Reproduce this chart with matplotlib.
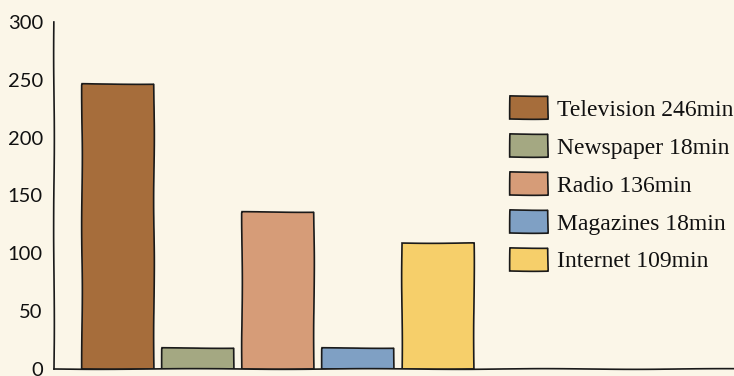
import matplotlib
matplotlib.use("Agg")
import matplotlib.pyplot as plt
import numpy as np

categories = ["Television", "Newspaper", "Radio", "Magazines", "Internet"]
values = [246, 18, 136, 18, 109]
unit = "min"
colors = ["#a66d3b", "#a4a882", "#d69c78", "#7fa0c4", "#f6cf6a"]
yticks = [0, 50, 100, 150, 200, 250, 300]

W, H = 734, 376
fig = plt.figure(figsize=(W / 100, H / 100), dpi=100)
bg = "#fbf6e8"
fig.patch.set_facecolor(bg)
ax = fig.add_axes([54 / W, 7 / H, 680 / W, 347 / H])
ax.set_facecolor(bg)

x = np.arange(len(categories))
labels = [f"{c} {v}{unit}" for c, v in zip(categories, values)]
bars = ax.bar(x, values, width=0.9, color=colors, edgecolor="#1a1a1a", linewidth=1.2)
for b in bars:
    b.set_sketch_params(scale=0.35, length=150, randomness=2)

ax.set_xlim(-0.8, -0.8 + 680 / 80)
ax.set_ylim(0, 300)
ax.set_yticks(yticks)
ax.set_xticks([])
for s in ["top", "right"]:
    ax.spines[s].set_visible(False)
for s in ["left", "bottom"]:
    ax.spines[s].set_color("#1a1a1a")
    ax.spines[s].set_linewidth(1.2)
    ax.spines[s].set_sketch_params(scale=0.35, length=200, randomness=2)
ax.tick_params(axis="y", length=0, pad=8, labelsize=14.5, labelcolor="#111111")
for t in ax.get_yticklabels():
    t.set_family(["Lato", "DejaVu Sans"])

leg = ax.legend(handles=list(bars), labels=labels,
                loc="upper left", bbox_to_anchor=(510 / W, (376 - 96) / H),
                bbox_transform=fig.transFigure, frameon=False,
                prop={"family": ["Liberation Serif", "DejaVu Serif"], "size": 17},
                handlelength=1.6, handleheight=1.15, handletextpad=0.38,
                labelspacing=0.56, borderaxespad=0, borderpad=0)
for p in leg.get_patches():
    p.set_edgecolor("#1a1a1a")
    p.set_linewidth(1.2)
    p.set_sketch_params(scale=0.35, length=100, randomness=2)
for t in leg.get_texts():
    t.set_color("#111111")

fig.savefig("out.png", dpi=100, facecolor=bg)
